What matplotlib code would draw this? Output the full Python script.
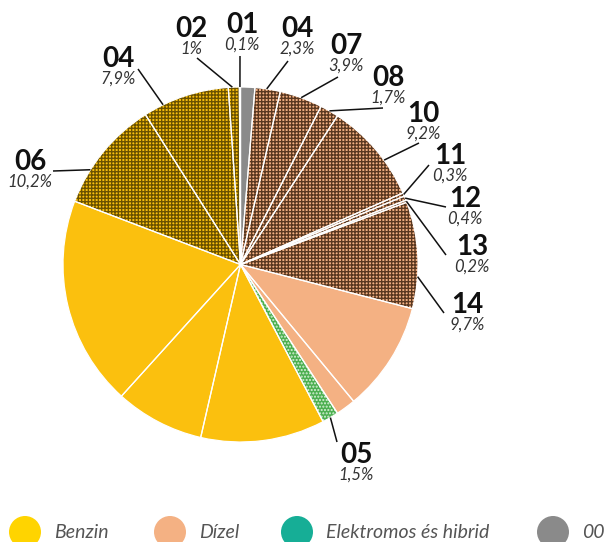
import numpy as np
import matplotlib.pyplot as plt
from matplotlib.patches import Wedge, Circle

plt.rcParams['font.family'] = ['Lato', 'DejaVu Sans']
plt.rcParams['hatch.linewidth'] = 1.0

# Szeletek az óramutató járása szerint, 12 órától
slice_codes = ["", "04", "07", "08", "10", "11", "12", "13", "14",
               "", "", "05", "", "", "", "06", "04", "02", "01"]
slice_values = [1.3, 2.3, 3.9, 1.7, 9.2, 0.3, 0.4, 0.2, 9.7,
                10.0, 1.8, 1.5, 11.3, 8.1, 19.1, 10.2, 7.9, 1.0, 0.1]
slice_fuel = ["00"] + ["Dízel"] * 10 + ["Elektromos és hibrid"] + ["Benzin"] * 7

legend_labels = ["Benzin", "Dízel", "Elektromos és hibrid", "00"]

# színek
fuel_colors = {"Benzin": "#fbc00e", "Dízel": "#f4b183",
               "Elektromos és hibrid": "#4caf50", "00": "#8a8a8a"}
legend_colors = ["#ffd400", "#f4b183", "#16ae96", "#8a8a8a"]
hatch_colors = {"Benzin": "#6b5200", "Dízel": "#5a3820",
                "Elektromos és hibrid": "#d8f0d8"}

# pixel -> adat koordináta
CX, CY, R = 240.5, 264.5, 177.5
W, H = 605, 542


def px(x, y):
    return (x - CX) / R, (CY - y) / R


# feliratok helye (pixelben): szám középpontja, alapvonal, vonal kezdete, hol éri el a szeletet
label_layout = {
    1: (297, 37, (288, 61), 0.46),
    2: (346, 54, (338, 77), 0.5),
    3: (388, 86, (383, 108), 0.5),
    4: (423, 122, (419, 143), 0.63),
    5: (450, 164, (429, 165), 0.5),
    6: (465, 207, (446, 207), 0.5),
    7: (472, 255, (446, 255), 0.5),
    8: (467, 313, (444, 313), 0.7),
    11: (356, 463, (337, 442), 0.5),
    15: (30, 170, (53, 171), 0.31),
    16: (118, 67, (138, 69), 0.23),
    17: (191, 37, (197, 58), 0.37),
    18: (242, 33, (240, 56), 0.5),
}

fig = plt.figure(figsize=(W / 100, H / 100), dpi=100)
ax = fig.add_axes([0, 0, 1, 1])

colors = [fuel_colors[f] for f in slice_fuel]
wedges, _ = ax.pie(slice_values, radius=1, startangle=90, counterclock=False,
                   colors=colors, wedgeprops=dict(edgecolor="none", linewidth=0))

# mintázat a kódolt szeletekre
for w, code, fuel in zip(wedges, slice_codes, slice_fuel):
    if code:
        pat = "....." if fuel == "Elektromos és hibrid" else "+++++"
        ax.add_patch(Wedge((0, 0), 1, w.theta1, w.theta2, facecolor="none",
                           edgecolor=hatch_colors[fuel], linewidth=0, hatch=pat))

# fehér elválasztók
for w in wedges:
    ax.add_patch(Wedge((0, 0), 1, w.theta1, w.theta2, facecolor="none",
                       edgecolor="white", linewidth=0.9))

# feliratok és vezetővonalak
for i, (cx, base, start, frac) in label_layout.items():
    w = wedges[i]
    ang = np.deg2rad(w.theta2 - frac * (w.theta2 - w.theta1))
    sx, sy = px(*start)
    ax.plot([sx, np.cos(ang)], [sy, np.sin(ang)], color="#111111", lw=1.1,
            solid_capstyle="butt")
    tx, ty = px(cx, base)
    ax.text(tx, ty, slice_codes[i], ha="center", va="baseline", fontsize=20,
            fontweight="bold", color="#111111")
    pct = f"{slice_values[i]:g}".replace(".", ",") + "%"
    tx, ty = px(cx, base + 17)
    ax.text(tx, ty, pct, ha="center", va="baseline", fontsize=12,
            style="italic", color="#333333")

# jelmagyarázat
legend_x = [25, 170, 297, 553]
legend_text_x = [54, 199, 326, 582]
for lx, tx, lab, col in zip(legend_x, legend_text_x, legend_labels, legend_colors):
    ax.add_patch(Circle(px(lx, 532), 16 / R, facecolor=col, edgecolor="none"))
    x, y = px(tx, 538)
    ax.text(x, y, lab, ha="left", va="baseline", fontsize=14, style="italic",
            color="#555555")

x0, y0 = px(0, H)
x1, y1 = px(W, 0)
ax.set_xlim(x0, x1)
ax.set_ylim(y0, y1)
ax.set_aspect("equal")
ax.axis("off")

fig.savefig("out.png", dpi=100)
